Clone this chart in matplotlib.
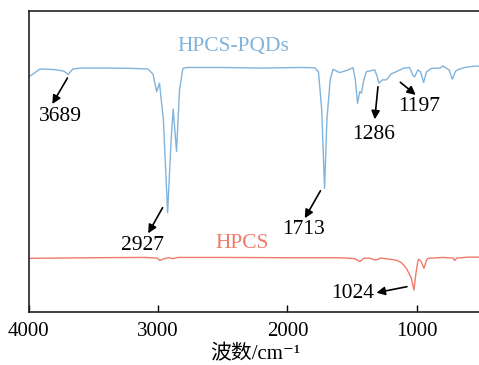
import matplotlib
matplotlib.use('Agg')
import matplotlib.pyplot as plt

plt.rcParams['font.family'] = ['Liberation Serif', 'Noto Sans CJK SC', 'DejaVu Sans']

# HPCS-PQDs spectrum (wavenumber, offset transmittance)
pqd_wn = [4000, 3914, 3800, 3730, 3696, 3660, 3600, 3400, 3200, 3080, 3040, 3012,
          2990, 2960, 2927, 2900, 2884, 2858, 2835, 2809, 2780, 2500, 2200, 1900,
          1789, 1760, 1735, 1713, 1695, 1670, 1648, 1596, 1530, 1493, 1475, 1458,
          1441, 1428, 1410, 1390, 1325, 1305, 1292, 1265, 1235, 1197, 1158, 1100,
          1055, 1030, 1016, 991, 970, 947, 925, 887, 820, 798, 750, 725, 700, 674,
          620, 539, 500]
pqd_t = [78.0, 80.6, 80.4, 79.9, 78.8, 80.6, 80.9, 80.9, 80.8, 80.6, 78.9, 73.1,
         75.9, 63.8, 32.9, 57.0, 67.3, 53.2, 73.6, 80.8, 81.1, 81.1, 80.9, 81.1,
         81.0, 79.6, 67.0, 41.0, 63.7, 76.9, 80.5, 79.4, 80.3, 81.1, 76.9, 69.2,
         73.1, 72.6, 76.9, 79.7, 80.3, 78.0, 75.9, 77.0, 77.0, 79.0, 79.7, 80.9,
         81.1, 78.5, 78.0, 80.3, 79.6, 76.1, 79.6, 80.8, 80.9, 81.6, 80.3, 77.2,
         79.9, 80.5, 81.2, 81.6, 81.4]

# HPCS spectrum
hpcs_wn = [4000, 3500, 3100, 3010, 2987, 2960, 2920, 2880, 2850, 2500, 2000, 1600,
           1480, 1441, 1410, 1370, 1318, 1280, 1158, 1120, 1080, 1042, 1022, 1005,
           990, 983, 965, 944, 925, 913, 800, 720, 707, 690, 600, 500]
hpcs_t = [17.8, 18.0, 18.1, 17.9, 17.1, 17.6, 18.0, 17.7, 18.1, 18.1, 18.0, 18.0,
          17.7, 16.7, 17.8, 17.9, 17.2, 17.9, 17.2, 16.4, 14.5, 11.2, 7.3, 13.3,
          17.2, 17.5, 16.6, 14.5, 17.2, 17.8, 18.1, 17.9, 17.1, 17.9, 18.2, 18.2]

# peak labels: text, text position, arrow tail, arrow head
peak_labels = ['3689', '2927', '1713', '1286', '1197', '1024']
label_pos = [(3754, 64.8), (3121, 21.9), (1879, 27.4), (1331, 59.0), (978, 68.3), (1493, 6.0)]
arrow_tail = [(3702, 77.6), (2966, 34.6), (1745, 40.2), (1300, 74.7), (1127, 76.2), (1076, 8.4)]
arrow_head = [(3819, 69.0), (3077, 26.1), (1866, 31.1), (1325, 63.9), (1008, 72.0), (1312, 6.4)]

blue = '#82b3da'
red = '#ef7b6c'

fig = plt.figure(figsize=(4.79, 3.65), dpi=100)
ax = fig.add_axes([28.9 / 479, 53 / 365, (481.4 - 28.9) / 479, 301.5 / 365])

ax.plot(pqd_wn, pqd_t, color=blue, lw=1.0)
ax.plot(hpcs_wn, hpcs_t, color=red, lw=1.0)

ax.text(2415, 87.9, 'HPCS-PQDs', color=blue, fontsize=15.5, ha='center', va='center')
ax.text(2348, 22.6, 'HPCS', color=red, fontsize=15.5, ha='center', va='center')

for lab, pos, tail, head in zip(peak_labels, label_pos, arrow_tail, arrow_head):
    ax.text(pos[0], pos[1], lab, fontsize=15.5, ha='center', va='center')
    ax.annotate('', xy=head, xytext=tail,
                arrowprops=dict(arrowstyle='-|>,head_length=0.5,head_width=0.25',
                                color='black', lw=1.2, shrinkA=0, shrinkB=0))

ax.set_xlim(4000, 500)
ax.set_ylim(0, 100)
ax.set_xticks([4000, 3000, 2000, 1000])
ax.set_yticks([])
ax.tick_params(axis='x', direction='in', length=5, width=1.0, labelsize=15, pad=7)
for s in ax.spines.values():
    s.set_linewidth(1.2)
    s.set_color('#222222')

ax.set_xlabel('波数/cm⁻¹', fontsize=15, labelpad=3)

fig.savefig('out.png', dpi=100)
